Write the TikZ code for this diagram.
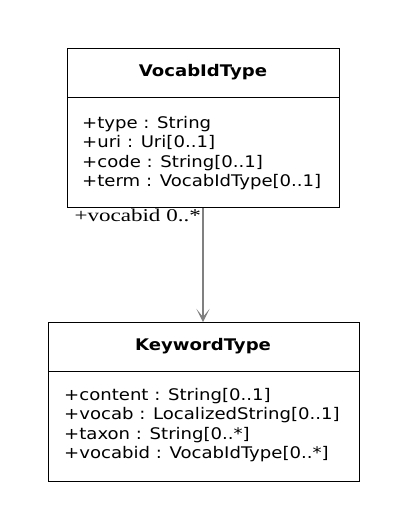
\documentclass[tikz,border=0pt]{standalone}
\usepackage{fontspec}
\setmainfont{DejaVu Sans}[FakeStretch=1.13]
\newfontfamily\lblserif{Liberation Serif}[FakeStretch=1.28]
\usetikzlibrary{arrows.meta}
\definecolor{assoc}{RGB}{128,128,128}
\begin{document}
\begin{tikzpicture}[x=1pt,y=-1pt,
  box/.style={draw=black, line width=1pt, inner sep=0pt, anchor=north west},
  title/.style={font=\fontsize{16}{18}\selectfont\bfseries, text height=11.7pt, text depth=0pt},
  attr/.style={font=\fontsize{16}{19.1}\selectfont, align=left, anchor=north west, inner sep=0pt},
  assocline/.style={draw=assoc, line width=1.1pt, -{Stealth[length=13pt, width=13pt, inset=8pt]}},
  role/.style={font=\lblserif\fontsize{18}{20}\selectfont, inner sep=0pt, anchor=base east}
]
\useasboundingbox (0,0) rectangle (407,528);
\fill[white] (0,0) rectangle (407,528);

% VocabIdType
\node[box, minimum width=272pt, minimum height=49pt] (vtitlebox) at (67,48) {};
\node[title, anchor=base] (vtitle) at (203,76) {VocabIdType};
\node[box, minimum width=272pt, minimum height=110pt] (vbody) at (67,97) {};
\node[attr] (vattr) at (82,116.5) {+type : String\\+uri : Uri[0..1]\\+code : String[0..1]\\+term : VocabIdType[0..1]};

% KeywordType
\node[box, minimum width=311pt, minimum height=49pt] (ktitlebox) at (48,322) {};
\node[title, anchor=base] (ktitle) at (203,350) {KeywordType};
\node[box, minimum width=311pt, minimum height=110pt] (kbody) at (48,371) {};
\node[attr] (kattr) at (64,388.5) {+content : String[0..1]\\+vocab : LocalizedString[0..1]\\+taxon : String[0..*]\\+vocabid : VocabIdType[0..*]};

% association
\draw[assocline] (vbody.south -| vtitle.base) -- (ktitlebox.north -| vtitle.base);
\node[role] (vrole) at (201,221) {+vocabid 0..*};
\end{tikzpicture}
\end{document}
